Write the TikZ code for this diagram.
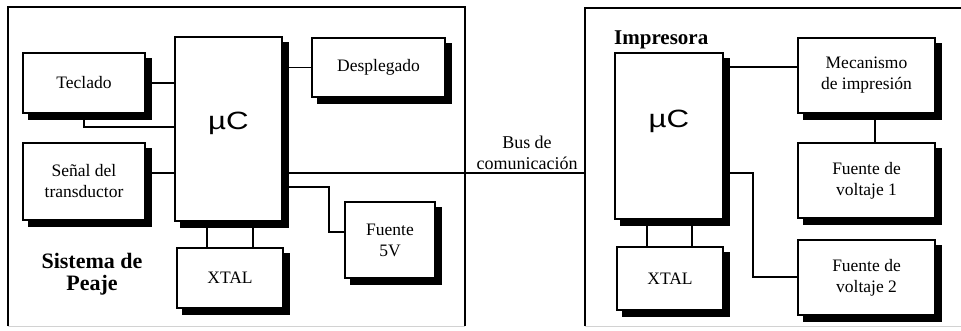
\documentclass[tikz,border=0pt]{standalone}
\usepackage{fontspec}
\usepackage{graphicx}
\setmainfont{Liberation Serif}
\newfontfamily\sansf{Liberation Sans}
\usetikzlibrary{backgrounds}
\newcommand\lblf{\fontsize{17.5}{21}\selectfont}
\newcommand\muf{\sansf\fontsize{25}{30}\selectfont}
\begin{document}
\begin{tikzpicture}[x=1pt,y=-1pt,
  blk/.style={draw, line width=1.5pt, fill=white, inner sep=0pt, align=center, font=\lblf},
  shad/.style={fill=black},
  wire/.style={line width=1.7pt},
  frame/.style={line width=2pt},
  ghost/.style={inner sep=0pt, draw=none}]
\useasboundingbox (0,0) rectangle (961,330);
% outer frames
\node[ghost, minimum width=457pt, minimum height=319pt] (sysL) at (236.5,166.5) {};
\node[ghost, minimum width=380pt, minimum height=318pt] (sysR) at (775,167) {};
% left blocks
\node[blk, minimum width=122pt, minimum height=60pt] (tec) at (84,83) {Teclado};
\node[blk, minimum width=122pt, minimum height=77pt] (sen) at (84,181.5) {Señal del\\transductor};
\node[blk, minimum width=107pt, minimum height=184pt] (muL) at (228.5,129) {\muf\raisebox{16pt}{\scalebox{1.25}[1]{µC}}};
\node[blk, minimum width=133pt, minimum height=59pt] (des) at (378.5,67.5) {Desplegado};
\node[blk, minimum width=90pt, minimum height=76pt] (f5) at (390,240) {Fuente\\5V};
\node[blk, minimum width=106pt, minimum height=60pt] (xL) at (230,278) {XTAL};
% right blocks
\node[blk, minimum width=108pt, minimum height=166pt] (muR) at (669,136) {\muf\raisebox{34pt}{\scalebox{1.25}[1]{µC}}};
\node[blk, minimum width=137pt, minimum height=75pt] (mec) at (866.5,75.5) {Mecanismo\\de impresión};
\node[blk, minimum width=137pt, minimum height=75pt] (f1) at (866.5,180.5) {Fuente de\\voltaje 1};
\node[blk, minimum width=137pt, minimum height=75pt] (f2) at (866.5,277.5) {Fuente de\\voltaje 2};
\node[blk, minimum width=106pt, minimum height=63pt] (xR) at (670,278.5) {XTAL};
% shadows and frames behind
\begin{scope}[on background layer]
\foreach \b in {tec,sen,muL,des,f5,xL,muR,mec,f1,f2,xR}{
  \fill[shad] ([xshift=6pt,yshift=-6pt]\b.south west) rectangle ([xshift=6pt,yshift=-6pt]\b.north east);
}
\draw[gray!35, line width=1pt] (sysL.south west) -- (sysL.south east);
\draw[gray!35, line width=1pt] (sysR.south west) -- (sysR.south east);
\draw[frame] (sysL.south west) -- (sysL.north west) -- (sysL.north east) -- (sysL.south east);
\draw[frame] (sysR.south west) -- (sysR.north west) -- (sysR.north east);
\end{scope}
% texts
\node[font=\bfseries\fontsize{22}{22}\selectfont, align=center] (sp) at (92,274) {Sistema de\\Peaje};
\node[font=\bfseries\fontsize{21}{23}\selectfont, anchor=base west, inner sep=0pt] (imp) at (614,44) {Impresora};
\node[font=\fontsize{18}{21}\selectfont, align=center] (bus) at (527,153) {Bus de\\comunicación};
% left connectors
\draw[wire] (tec.east) -- (tec.east -| muL.west);
\draw[wire] (tec.south) |- (muL.west |- 0,127);
\draw[wire] (sen.east |- 0,173) -- (muL.west |- 0,173);
\draw[wire] (muL.east |- des.west) -- (des.west);
\draw[wire] (muL.east |- 0,173) -- (sysR.west |- 0,173);
\draw[wire] (muL.east |- 0,187) -| (329,232) -- (f5.west |- 0,232);
\draw[wire] (muL.south -| 207,0) -- (xL.north -| 207,0);
\draw[wire] (muL.south -| 253,0) -- (xL.north -| 253,0);
% right connectors
\draw[wire] (muR.east |- 0,67) -- (mec.west |- 0,67);
\draw[wire] (mec.south -| 875,0) -- (f1.north -| 875,0);
\draw[wire] (muR.east |- 0,173) -| (753,277) -- (f2.west |- 0,277);
\draw[wire] (muR.south -| 647,0) -- (xR.north -| 647,0);
\draw[wire] (muR.south -| 692,0) -- (xR.north -| 692,0);
\end{tikzpicture}
\end{document}
